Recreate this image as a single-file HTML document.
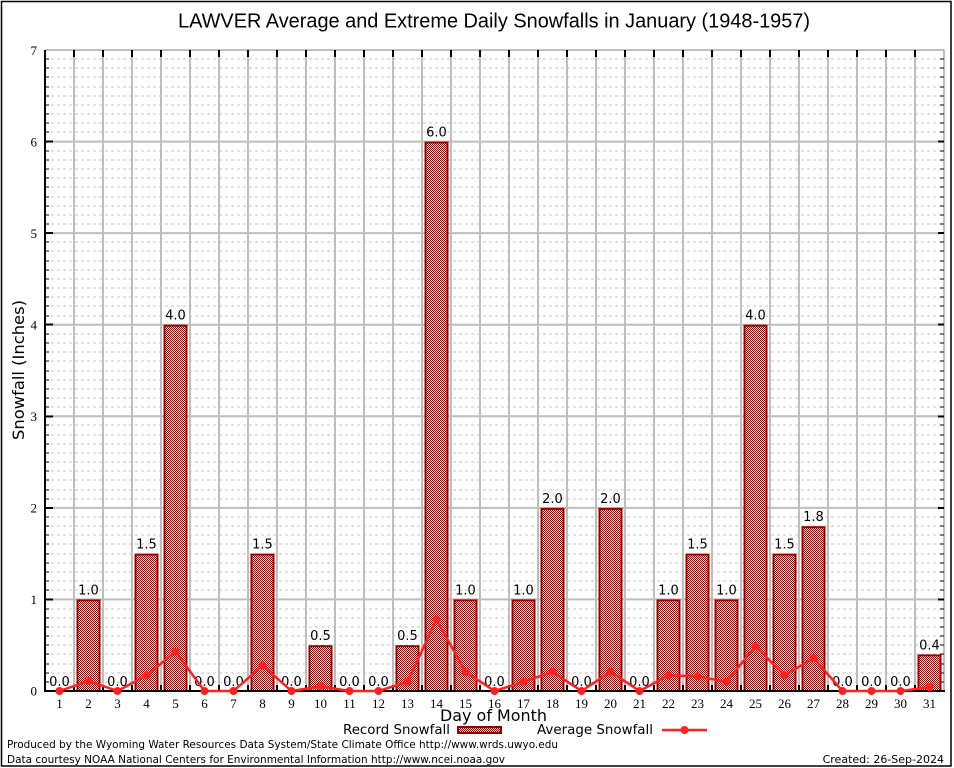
<!DOCTYPE html>
<html><head><meta charset="utf-8"><style>
html,body{margin:0;padding:0;background:#fff;}
svg{display:block;}
.ds{font-family:"DejaVu Sans","Liberation Sans",sans-serif;}
.sr{font-family:"Liberation Serif","DejaVu Serif",serif;}
</style></head><body>
<svg width="954" height="768" viewBox="0 0 954 768" xmlns="http://www.w3.org/2000/svg">
<defs>
<pattern id="chk" x="0" y="0" width="2" height="2" patternUnits="userSpaceOnUse">
<rect x="0" y="0" width="2" height="2" fill="#ffffff"/>
<rect x="0" y="0" width="1" height="1" fill="#a00000"/>
<rect x="1" y="1" width="1" height="1" fill="#a00000"/>
</pattern>
<path id="mt" d="M45 682h4M45 673h4M45 664h4M45 654h4M45 645h4M45 636h4M45 627h4M45 618h4M45 609h4M45 590h4M45 581h4M45 572h4M45 563h4M45 554h4M45 544h4M45 535h4M45 526h4M45 517h4M45 499h4M45 490h4M45 480h4M45 471h4M45 462h4M45 453h4M45 444h4M45 435h4M45 425h4M45 407h4M45 398h4M45 389h4M45 380h4M45 371h4M45 361h4M45 352h4M45 343h4M45 334h4M45 316h4M45 306h4M45 297h4M45 288h4M45 279h4M45 270h4M45 261h4M45 251h4M45 242h4M45 224h4M45 215h4M45 206h4M45 197h4M45 187h4M45 178h4M45 169h4M45 160h4M45 151h4M45 132h4M45 123h4M45 114h4M45 105h4M45 96h4M45 87h4M45 77h4M45 68h4M45 59h4"/>
</defs>
<rect x="0" y="0" width="954" height="768" fill="#fff"/>
<rect x="1.5" y="1.5" width="949.5" height="764.5" fill="none" stroke="#000" stroke-width="1.5"/>

<!-- minor dashed grid -->
<path shape-rendering="crispEdges" stroke="#c4c4c4" stroke-width="1" stroke-dasharray="3,3" fill="none" d="M45 682H944M45 673H944M45 664H944M45 654H944M45 645H944M45 636H944M45 627H944M45 618H944M45 609H944M45 590H944M45 581H944M45 572H944M45 563H944M45 554H944M45 544H944M45 535H944M45 526H944M45 517H944M45 499H944M45 490H944M45 480H944M45 471H944M45 462H944M45 453H944M45 444H944M45 435H944M45 425H944M45 407H944M45 398H944M45 389H944M45 380H944M45 371H944M45 361H944M45 352H944M45 343H944M45 334H944M45 316H944M45 306H944M45 297H944M45 288H944M45 279H944M45 270H944M45 261H944M45 251H944M45 242H944M45 224H944M45 215H944M45 206H944M45 197H944M45 187H944M45 178H944M45 169H944M45 160H944M45 151H944M45 132H944M45 123H944M45 114H944M45 105H944M45 96H944M45 87H944M45 77H944M45 68H944M45 59H944"/>
<!-- major grid -->
<path stroke="#bebebe" stroke-width="2" fill="none" d="M45 599.4H944M45 507.9H944M45 416.3H944M45 324.7H944M45 233.1H944M45 141.6H944M45 50H944M944 50V691M74 50V691M103 50V691M132 50V691M161 50V691M190 50V691M219 50V691M248 50V691M277 50V691M306 50V691M335 50V691M364 50V691M393 50V691M422 50V691M451 50V691M480 50V691M509 50V691M538 50V691M567 50V691M596 50V691M625 50V691M654 50V691M683 50V691M712 50V691M741 50V691M770 50V691M799 50V691M828 50V691M857 50V691M886 50V691M915 50V691"/>

<!-- ticks -->
<g stroke="#000" stroke-width="1" fill="none" shape-rendering="crispEdges">
<use href="#mt"/>
<use href="#mt" transform="matrix(-1 0 0 1 989 0)"/>
<path stroke-width="2" d="M45 599.4h8M45 507.9h8M45 416.3h8M45 324.7h8M45 233.1h8M45 141.6h8M944 599.4h-6M944 507.9h-6M944 416.3h-6M944 324.7h-6M944 233.1h-6M944 141.6h-6"/>
<path stroke-width="2" d="M74 50v7M103 50v7M132 50v7M161 50v7M190 50v7M219 50v7M248 50v7M277 50v7M306 50v7M335 50v7M364 50v7M393 50v7M422 50v7M451 50v7M480 50v7M509 50v7M538 50v7M567 50v7M596 50v7M625 50v7M654 50v7M683 50v7M712 50v7M741 50v7M770 50v7M799 50v7M828 50v7M857 50v7M886 50v7M915 50v7"/>
<path stroke-width="2" d="M74 691v-6M103 691v-6M132 691v-6M161 691v-6M190 691v-6M219 691v-6M248 691v-6M277 691v-6M306 691v-6M335 691v-6M364 691v-6M393 691v-6M422 691v-6M451 691v-6M480 691v-6M509 691v-6M538 691v-6M567 691v-6M596 691v-6M625 691v-6M654 691v-6M683 691v-6M712 691v-6M741 691v-6M770 691v-6M799 691v-6M828 691v-6M857 691v-6M886 691v-6M915 691v-6"/>
</g>

<!-- bars -->
<g fill="url(#chk)" stroke="#990000" stroke-width="2">
<rect x="77.5" y="600.4" width="22" height="90.6"/>
<rect x="135.5" y="554.6" width="22" height="136.4"/>
<rect x="164.5" y="325.7" width="22" height="365.3"/>
<rect x="251.5" y="554.6" width="22" height="136.4"/>
<rect x="309.5" y="646.2" width="22" height="44.8"/>
<rect x="396.5" y="646.2" width="22" height="44.8"/>
<rect x="425.5" y="142.6" width="22" height="548.4"/>
<rect x="454.5" y="600.4" width="22" height="90.6"/>
<rect x="512.5" y="600.4" width="22" height="90.6"/>
<rect x="541.5" y="508.9" width="22" height="182.1"/>
<rect x="599.5" y="508.9" width="22" height="182.1"/>
<rect x="657.5" y="600.4" width="22" height="90.6"/>
<rect x="686.5" y="554.6" width="22" height="136.4"/>
<rect x="715.5" y="600.4" width="22" height="90.6"/>
<rect x="744.5" y="325.7" width="22" height="365.3"/>
<rect x="773.5" y="554.6" width="22" height="136.4"/>
<rect x="802.5" y="527.2" width="22" height="163.8"/>
<rect x="918.5" y="655.4" width="22" height="35.6"/>
</g>

<!-- axes -->
<path stroke="#000" stroke-width="2" fill="none" d="M45 50V692M44 691H945"/>

<!-- value labels -->
<g class="ds" font-size="13" fill="#000" text-anchor="middle">
<text x="59.5" y="686">0.0</text>
<text x="88.5" y="594.4">1.0</text>
<text x="117.5" y="686">0.0</text>
<text x="146.5" y="548.6">1.5</text>
<text x="175.5" y="319.7">4.0</text>
<text x="204.5" y="686">0.0</text>
<text x="233.5" y="686">0.0</text>
<text x="262.5" y="548.6">1.5</text>
<text x="291.5" y="686">0.0</text>
<text x="320.5" y="640.2">0.5</text>
<text x="349.5" y="686">0.0</text>
<text x="378.5" y="686">0.0</text>
<text x="407.5" y="640.2">0.5</text>
<text x="436.5" y="136.6">6.0</text>
<text x="465.5" y="594.4">1.0</text>
<text x="494.5" y="686">0.0</text>
<text x="523.5" y="594.4">1.0</text>
<text x="552.5" y="502.9">2.0</text>
<text x="581.5" y="686">0.0</text>
<text x="610.5" y="502.9">2.0</text>
<text x="639.5" y="686">0.0</text>
<text x="668.5" y="594.4">1.0</text>
<text x="697.5" y="548.6">1.5</text>
<text x="726.5" y="594.4">1.0</text>
<text x="755.5" y="319.7">4.0</text>
<text x="784.5" y="548.6">1.5</text>
<text x="813.5" y="521.2">1.8</text>
<text x="842.5" y="686">0.0</text>
<text x="871.5" y="686">0.0</text>
<text x="900.5" y="686">0.0</text>
<text x="929.5" y="649.4">0.4</text>
</g>

<!-- average line -->
<polyline fill="none" stroke="#ff2020" stroke-width="2.5" stroke-linejoin="round" points="59.5,691 88.5,680.9 117.5,691 146.5,675.4 175.5,651.6 204.5,691 233.5,691 262.5,665.4 291.5,691 320.5,686.4 349.5,691 378.5,691 407.5,681.8 436.5,619.6 465.5,671.8 494.5,691 523.5,681.8 552.5,671.8 581.5,691 610.5,671.8 639.5,691 668.5,675.4 697.5,676.3 726.5,681.8 755.5,646.1 784.5,675.4 813.5,658 842.5,691 871.5,691 900.5,691 929.5,687.3"/>
<g fill="#ff2020">
<circle cx="59.5" cy="691" r="4"/><circle cx="88.5" cy="680.9" r="4"/><circle cx="117.5" cy="691" r="4"/><circle cx="146.5" cy="675.4" r="4"/><circle cx="175.5" cy="651.6" r="4"/><circle cx="204.5" cy="691" r="4"/><circle cx="233.5" cy="691" r="4"/><circle cx="262.5" cy="665.4" r="4"/><circle cx="291.5" cy="691" r="4"/><circle cx="320.5" cy="686.4" r="4"/><circle cx="349.5" cy="691" r="4"/><circle cx="378.5" cy="691" r="4"/><circle cx="407.5" cy="681.8" r="4"/><circle cx="436.5" cy="619.6" r="4"/><circle cx="465.5" cy="671.8" r="4"/><circle cx="494.5" cy="691" r="4"/><circle cx="523.5" cy="681.8" r="4"/><circle cx="552.5" cy="671.8" r="4"/><circle cx="581.5" cy="691" r="4"/><circle cx="610.5" cy="671.8" r="4"/><circle cx="639.5" cy="691" r="4"/><circle cx="668.5" cy="675.4" r="4"/><circle cx="697.5" cy="676.3" r="4"/><circle cx="726.5" cy="681.8" r="4"/><circle cx="755.5" cy="646.1" r="4"/><circle cx="784.5" cy="675.4" r="4"/><circle cx="813.5" cy="658" r="4"/><circle cx="842.5" cy="691" r="4"/><circle cx="871.5" cy="691" r="4"/><circle cx="900.5" cy="691" r="4"/><circle cx="929.5" cy="687.3" r="4"/>
</g>

<!-- y tick labels -->
<g class="sr" font-size="13" fill="#000" text-anchor="end">
<text x="37" y="695.5">0</text>
<text x="37" y="604">1</text>
<text x="37" y="512.5">2</text>
<text x="37" y="421">3</text>
<text x="37" y="329.5">4</text>
<text x="37" y="238">5</text>
<text x="37" y="146.5">6</text>
<text x="37" y="55">7</text>
</g>
<!-- x tick labels -->
<g class="sr" font-size="13" fill="#000" text-anchor="middle">
<text x="59.5" y="708">1</text><text x="88.5" y="708">2</text><text x="117.5" y="708">3</text><text x="146.5" y="708">4</text><text x="175.5" y="708">5</text><text x="204.5" y="708">6</text><text x="233.5" y="708">7</text><text x="262.5" y="708">8</text><text x="291.5" y="708">9</text><text x="320.5" y="708">10</text><text x="349.5" y="708">11</text><text x="378.5" y="708">12</text><text x="407.5" y="708">13</text><text x="436.5" y="708">14</text><text x="465.5" y="708">15</text><text x="494.5" y="708">16</text><text x="523.5" y="708">17</text><text x="552.5" y="708">18</text><text x="581.5" y="708">19</text><text x="610.5" y="708">20</text><text x="639.5" y="708">21</text><text x="668.5" y="708">22</text><text x="697.5" y="708">23</text><text x="726.5" y="708">24</text><text x="755.5" y="708">25</text><text x="784.5" y="708">26</text><text x="813.5" y="708">27</text><text x="842.5" y="708">28</text><text x="871.5" y="708">29</text><text x="900.5" y="708">30</text><text x="929.5" y="708">31</text>
</g>

<!-- title -->
<text x="178" y="27.5" font-family="Liberation Sans, Arial, sans-serif" font-size="20" textLength="632" lengthAdjust="spacingAndGlyphs" fill="#000">LAWVER Average and Extreme Daily Snowfalls in January (1948-1957)</text>

<!-- axis titles -->
<text class="ds" transform="translate(24,370) rotate(-90)" text-anchor="middle" font-size="16" textLength="140" lengthAdjust="spacingAndGlyphs" fill="#000">Snowfall (Inches)</text>
<text class="ds" x="440" y="721" font-size="16" textLength="107" lengthAdjust="spacingAndGlyphs" fill="#000">Day of Month</text>

<!-- legend -->
<text class="ds" x="343" y="734" font-size="13" textLength="107" lengthAdjust="spacingAndGlyphs" fill="#000">Record Snowfall</text>
<rect x="458" y="727" width="43" height="6" fill="url(#chk)" stroke="#990000" stroke-width="2"/>
<text class="ds" x="537" y="734" font-size="13" textLength="116" lengthAdjust="spacingAndGlyphs" fill="#000">Average Snowfall</text>
<path d="M662 730H707" stroke="#ff2020" stroke-width="2.5"/>
<circle cx="684.5" cy="730" r="4" fill="#ff2020"/>

<!-- footer -->
<text class="ds" x="7" y="748" font-size="11" textLength="551" lengthAdjust="spacingAndGlyphs" fill="#000">Produced by the Wyoming Water Resources Data System/State Climate Office http://www.wrds.uwyo.edu</text>
<text class="ds" x="7" y="763" font-size="11" textLength="498" lengthAdjust="spacingAndGlyphs" fill="#000">Data courtesy NOAA National Centers for Environmental Information http://www.ncei.noaa.gov</text>
<text class="ds" x="944" y="763" font-size="11" text-anchor="end" fill="#000">Created: 26-Sep-2024</text>
</svg>
</body></html>
